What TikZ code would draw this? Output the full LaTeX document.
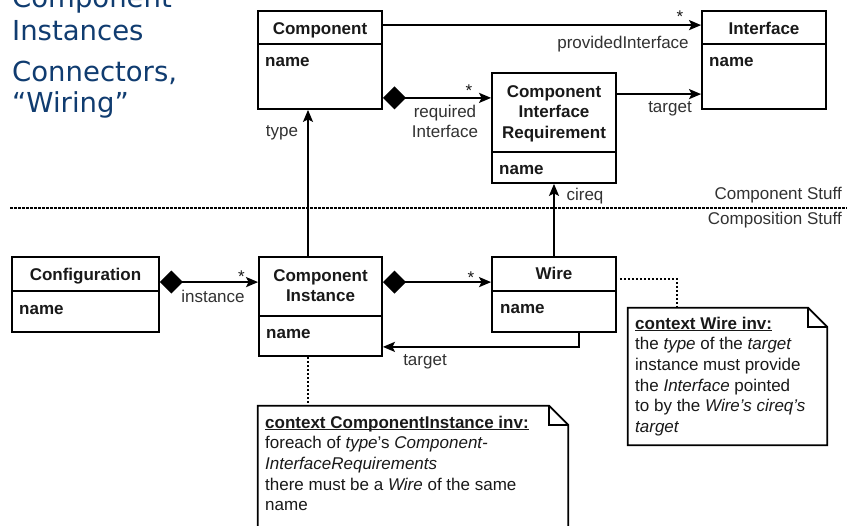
\documentclass[tikz,border=0pt]{standalone}
\usepackage{fontspec}
\setmainfont{Liberation Sans}
\newfontfamily\headfont{DejaVu Sans}
\usetikzlibrary{arrows.meta}
\definecolor{headblue}{RGB}{16,60,112}
\definecolor{ink}{RGB}{25,25,25}
\definecolor{lblgray}{RGB}{50,50,50}
% bold heading with a rule just under the baseline
\newcommand{\undl}[1]{\setbox0=\hbox{#1}\rlap{\rule[-2.2pt]{\wd0}{1.1pt}}\box0}

\begin{document}
\begin{tikzpicture}[x=1pt,y=-1pt,
  every node/.style={inner sep=0pt, font=\fontsize{17}{20.7}\selectfont, text=ink},
  classbox/.style={draw=black, line width=1.8pt, inner sep=0pt},
  divider/.style={line width=1.8pt},
  boxtitle/.style={anchor=base, font=\fontsize{17}{20.7}\selectfont\bfseries},
  multititle/.style={anchor=north, align=center, font=\fontsize{17}{20.7}\selectfont\bfseries},
  attr/.style={anchor=base west, font=\fontsize{17}{20.7}\selectfont\bfseries},
  lbl/.style={anchor=base, text=lblgray},
  mult/.style={anchor=base, text=ink},
  assoc/.style={line width=1.8pt, -{Stealth[length=12pt,width=10pt,inset=2.5pt]}},
  compo/.style={line width=1.8pt, {Diamond[length=23pt,width=23pt]}-{Stealth[length=12pt,width=10pt,inset=2.5pt]}},
  notelink/.style={line width=1.8pt, dash pattern=on 2.5pt off 1.5pt},
  sepline/.style={line width=1.8pt, dash pattern=on 2.5pt off 1.5pt},
  noteline/.style={line width=1.8pt, line join=miter},
  notetext/.style={anchor=north west, align=left},
  heading/.style={anchor=base west, text=headblue, font=\headfont\fontsize{27.5}{33}\selectfont}
]
\fill[white] (0,0) rectangle (847,526);
\useasboundingbox (0,0) rectangle (847,526);

% slide headings
\node[heading] (h1) at (12,8) {Component};
\node[heading] (h2) at (12,41) {Instances};
\node[heading] (h3) at (12,82) {Connectors,};
\node[heading] (h4) at (12,113) {“Wiring”};

% ---- classes ----
\node[classbox, minimum width=124pt, minimum height=98pt] (comp) at (320,60) {};
\draw[divider] ([yshift=-34pt]comp.north west) -- ([yshift=-34pt]comp.north east);
\node[boxtitle] (compT) at (320,35) {Component};
\node[attr] (compA) at (265,67) {name};

\node[classbox, minimum width=124pt, minimum height=98pt] (iface) at (764,60) {};
\draw[divider] ([yshift=-34pt]iface.north west) -- ([yshift=-34pt]iface.north east);
\node[boxtitle] (ifaceT) at (764,34.5) {Interface};
\node[attr] (ifaceA) at (709,67) {name};

\node[classbox, minimum width=124pt, minimum height=110pt] (cir) at (554,128) {};
\draw[divider] ([yshift=-80pt]cir.north west) -- ([yshift=-80pt]cir.north east);
\node[multititle] (cirT) at (554,82.5) {\strut Component\\Interface\\Requirement};
\node[attr] (cirA) at (499,175) {name};

\node[classbox, minimum width=147pt, minimum height=75pt] (config) at (85.5,294.5) {};
\draw[divider] ([yshift=-35pt]config.north west) -- ([yshift=-35pt]config.north east);
\node[boxtitle] (configT) at (85.5,281) {Configuration};
\node[attr] (configA) at (19,315) {name};

\node[classbox, minimum width=123pt, minimum height=99pt] (ci) at (320.5,306.5) {};
\draw[divider] ([yshift=-60pt]ci.north west) -- ([yshift=-60pt]ci.north east);
\node[multititle] (ciT) at (320.5,266.5) {\strut Component\\Instance};
\node[attr] (ciA) at (266,339) {name};

\node[classbox, minimum width=124pt, minimum height=75pt] (wire) at (554,294.5) {};
\draw[divider] ([yshift=-35pt]wire.north west) -- ([yshift=-35pt]wire.north east);
\node[boxtitle] (wireT) at (554,280) {Wire};
\node[attr] (wireA) at (500,314) {name};

% ---- package separator ----
\coordinate (sepL) at (10,208);
\coordinate (sepR) at (847,208);
\draw[sepline] (sepL) -- (sepR);
\node[anchor=base east, text=lblgray] (cstuff) at (842,200) {Component Stuff};
\node[anchor=base east, text=lblgray] (pstuff) at (842,225) {Composition Stuff};

% ---- associations ----
\coordinate (provS) at ([yshift=-15pt]comp.north east);
\draw[assoc] (provS) -- (provS -| iface.west);
\node[mult] (provM) at (680,22.5) {*};
\node[lbl] (provL) at (623,49) {providedInterface};

\coordinate (reqS) at ([yshift=12pt]comp.south east);
\draw[compo] (reqS) -- (reqS -| cir.west);
\node[mult] (reqM) at (469,97) {*};
\node[lbl, align=center, anchor=north] (reqL) at (445,102.5) {\strut required\\Interface};

\coordinate (tgtS) at ([yshift=-22pt]cir.north east);
\draw[assoc] (tgtS) -- (tgtS -| iface.west);
\node[lbl] (tgtL) at (670,113) {target};

\coordinate (typeS) at ([xshift=-12.5pt]ci.north);
\draw[assoc] (typeS) -- (typeS |- comp.south);
\node[lbl] (typeL) at (282,137) {type};

\draw[assoc] (wire.north) -- (cir.south);
\node[lbl] (cireqL) at (585,201) {cireq};

\coordinate (instS) at ([yshift=-26pt]config.north east);
\draw[compo] (instS) -- (instS -| ci.west);
\node[mult] (instM) at (241.5,283) {*};
\node[lbl] (instL) at (213,303) {instance};

\coordinate (wireS) at ([yshift=-26pt]ci.north east);
\draw[compo] (wireS) -- (wireS -| wire.west);
\node[mult] (wireM) at (471,283.5) {*};

\coordinate (wtS) at ([xshift=25pt]wire.south);
\coordinate (wtC) at ([yshift=-14pt]wtS);
\draw[assoc] (wtS) -- (wtC) -- (wtC -| ci.east);
\node[lbl] (wtL) at (425,366) {target};

% ---- OCL notes ----
\node[minimum width=199pt, minimum height=137pt] (wnote) at (727.5,376.5) {};
\draw[noteline] (wnote.north west) -- ([xshift=-19pt]wnote.north east) -- ([yshift=-19pt]wnote.north east) -- (wnote.south east) -- (wnote.south west) -- cycle;
\draw[noteline] ([xshift=-19pt]wnote.north east) -- ([xshift=-19pt,yshift=-19pt]wnote.north east) -- ([yshift=-19pt]wnote.north east);
\node[notetext] (wnoteT) at (635,314.5) {\strut\undl{\bfseries context Wire inv:}\\
  the \textit{type} of the \textit{target}\\
  instance must provide\\
  the \textit{Interface} pointed\\
  to by the \textit{Wire’s cireq’s}\\
  \textit{target}};
\coordinate (wnS) at ([xshift=3pt,yshift=-23pt]wire.north east);
\draw[notelink] (wnS) -| ([xshift=-50.5pt]wnote.north);

\node[minimum width=310pt, minimum height=134pt] (cinote) at (413,473) {};
\draw[noteline] (cinote.north west) -- ([xshift=-19pt]cinote.north east) -- ([yshift=-19pt]cinote.north east) -- (cinote.south east) -- (cinote.south west) -- cycle;
\draw[noteline] ([xshift=-19pt]cinote.north east) -- ([xshift=-19pt,yshift=-19pt]cinote.north east) -- ([yshift=-19pt]cinote.north east);
\node[notetext] (cinoteT) at (265,413.5) {\strut\undl{\bfseries context ComponentInstance inv:}\\
  foreach of \textit{type}’s \textit{Component-}\\
  \textit{InterfaceRequirements}\\
  there must be a \textit{Wire} of the same\\
  name};
\coordinate (cnS) at ([xshift=-12.5pt]ci.south);
\draw[notelink] (cnS) -- (cnS |- cinote.north);
\end{tikzpicture}
\end{document}
